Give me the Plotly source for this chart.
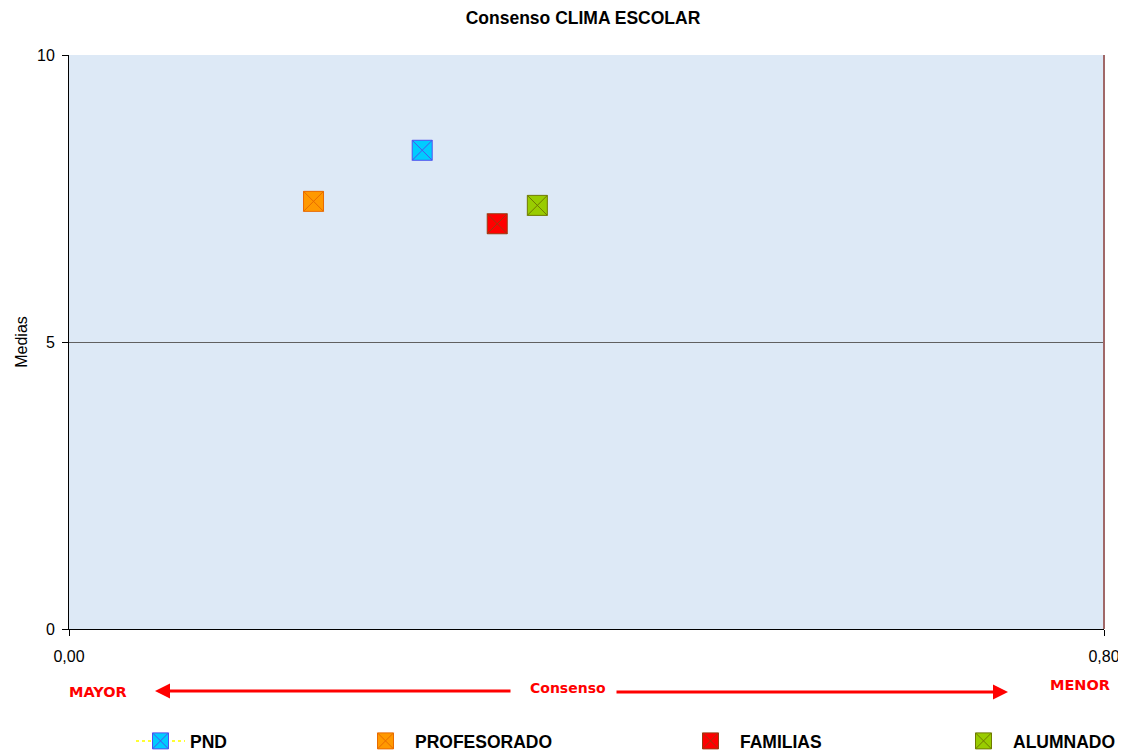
import plotly.graph_objects as go

series = ["PND", "PROFESORADO", "FAMILIAS", "ALUMNADO"]
consenso = [0.273, 0.189, 0.331, 0.362]
medias = [8.34, 7.45, 7.06, 7.38]
fill_colors = ["#00ccff", "#ff9900", "#ff0000", "#99cc00"]
x_colors = ["#5050ee", "#e86a00", "#9a3a10", "#6f7a00"]
x_ticks = [0, 0.8]
x_ticktext = ["0,00", "0,80"]
y_ticks = [0, 5, 10]

FONT = "Liberation Sans, Arial, sans-serif"
W, H = 1118, 748
OFF = 8  # page body margin

fig = go.Figure()
legend_names = ["legend", "legend2", "legend3", "legend4"]
legend_left_screen = [131, 356, 681, 954]
for i, name in enumerate(series):
    fig.add_trace(go.Scatter(
        x=[consenso[i]], y=[medias[i]], name=name,
        mode="lines+markers" if i == 0 else "markers",
        line=dict(color="#ffff33", width=2, dash="dot"),
        marker=dict(symbol="square-x", size=20, color=fill_colors[i],
                    line=dict(color=x_colors[i], width=1)),
        legend=legend_names[i],
    ))

layout_legends = {}
for i, ln in enumerate(legend_names):
    layout_legends[ln] = dict(
        x=(legend_left_screen[i] - OFF) / W, y=1 - (741 - OFF) / H,
        xref="container", yref="container",
        xanchor="left", yanchor="middle",
        orientation="h", itemwidth=49, bgcolor="rgba(0,0,0,0)",
        font=dict(family=FONT, size=17.5, color="#000000", weight="bold"),
    )

fig.update_layout(
    width=W, height=H,
    margin=dict(l=69 - OFF, r=W - (1104 - OFF), t=55 - OFF, b=H - (629 - OFF)),
    paper_bgcolor="#ffffff",
    plot_bgcolor="#dde9f6",
    title=dict(text="<b>Consenso CLIMA ESCOLAR</b>", x=(583 - OFF) / W, xref="container",
               xanchor="center",
               y=1 - (18 - OFF) / H, yref="container", yanchor="middle",
               font=dict(family=FONT, size=17.5, color="#000000")),
    showlegend=True,
    **layout_legends,
)

fig.update_xaxes(
    range=[0, 0.8], tickvals=x_ticks, ticktext=x_ticktext, automargin=False,
    showgrid=False, zeroline=False, showline=True, linecolor="#000000", linewidth=1,
    ticks="outside", ticklen=6, tickcolor="#000000", ticklabelstandoff=7,
    tickfont=dict(family=FONT, size=16, color="#000000"),
)
fig.update_yaxes(
    range=[0, 10], tickvals=y_ticks, automargin=False,
    showgrid=True, gridcolor="#606060", gridwidth=1, zeroline=False,
    showline=True, linecolor="#000000", linewidth=1,
    ticks="outside", ticklen=6, tickcolor="#000000", ticklabelstandoff=4,
    tickfont=dict(family=FONT, size=16, color="#000000"),
    title=dict(text="Medias", font=dict(family=FONT, size=16, color="#000000"), standoff=5),
)

# right border
fig.add_shape(type="line", xref="paper", yref="paper", x0=1, x1=1, y0=0, y1=1,
              line=dict(color="#a06868", width=2))

# Consenso arrows and labels
def px(xs):
    return (xs - 69) / 1035
def py(ys):
    return (629 - ys) / 574
red = "#ff0000"
lab_font = dict(family="DejaVu Sans, sans-serif", size=14, color=red, weight="bold")
fig.add_annotation(x=px(155), y=py(691), xref="paper", yref="paper", ax=357, ay=0, text="",
                   showarrow=True, arrowhead=2, arrowsize=1, arrowwidth=3, arrowcolor=red)
fig.add_annotation(x=px(1008), y=py(692), xref="paper", yref="paper", ax=-393, ay=0, text="",
                   showarrow=True, arrowhead=2, arrowsize=1, arrowwidth=3, arrowcolor=red)
fig.add_annotation(x=px(98), y=py(692), xref="paper", yref="paper", text="MAYOR",
                   xanchor="center", yanchor="middle",
                   showarrow=False, font=dict(**{**lab_font, "size": 14.5}))
fig.add_annotation(x=px(568), y=py(688), xref="paper", yref="paper", text="Consenso",
                   xanchor="center", yanchor="middle",
                   showarrow=False, font=lab_font)
fig.add_annotation(x=px(1080), y=py(685), xref="paper", yref="paper", text="MENOR",
                   xanchor="center", yanchor="middle",
                   showarrow=False, font=dict(**{**lab_font, "size": 14.5}))

fig.write_html("out.html")
